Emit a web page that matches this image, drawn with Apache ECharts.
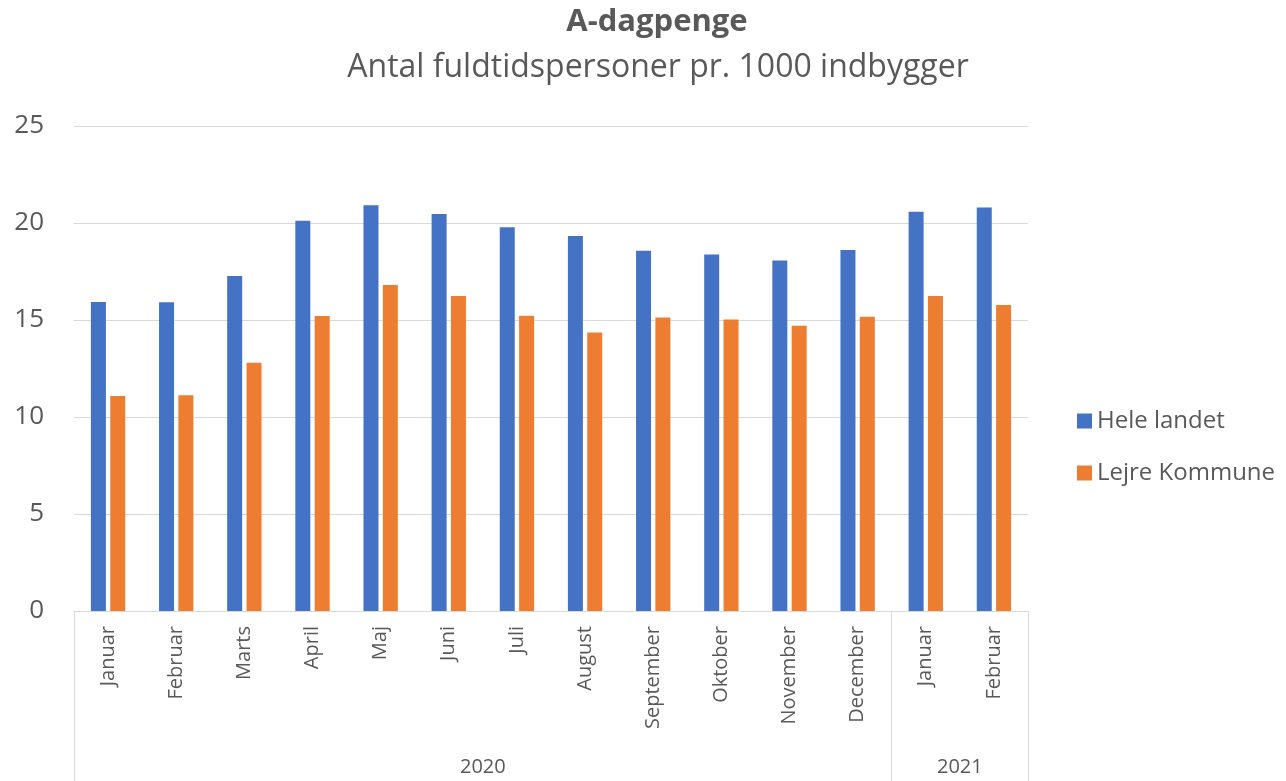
<!DOCTYPE html>
<html>
<head>
<meta charset="utf-8">
<script src="https://cdn.jsdelivr.net/npm/echarts@6/dist/echarts.min.js"></script>
<style>
html,body{margin:0;padding:0;background:#fff;}
#chart{width:1286px;height:781px;}
</style>
</head>
<body>
<div id="chart"></div>
<script>
const months = ['Januar','Februar','Marts','April','Maj','Juni','Juli','August','September','Oktober','November','December','Januar','Februar'];
const years = ['2020','2021'];
const yearSpans = [12, 2];
const heleLandet = [15.93, 15.92, 17.27, 20.12, 20.91, 20.46, 19.78, 19.33, 18.57, 18.38, 18.07, 18.61, 20.58, 20.80];
const lejreKommune = [11.08, 11.12, 12.80, 15.21, 16.80, 16.24, 15.22, 14.35, 15.13, 15.03, 14.71, 15.17, 16.24, 15.77];
const yTicks = [0, 5, 10, 15, 20, 25];

const FONT = '"Open Sans", "Noto Sans", sans-serif';
const TXT = '#595959';
const GRID = '#d9d9d9';

// year group boundaries and label centres
const bounds = [0];
const centres = [];
yearSpans.forEach((s, i) => { centres.push(bounds[i] + s / 2); bounds.push(bounds[i] + s); });

const chart = echarts.init(document.getElementById('chart'));
chart.setOption({
  animation: false,
  textStyle: { fontFamily: FONT },
  title: [
    { text: 'A-dagpenge', left: 652, top: 2, textAlign: 'center',
      textStyle: { fontFamily: FONT, fontSize: 31, fontWeight: 'bold', color: TXT } },
    { text: 'Antal fuldtidspersoner pr. 1000 indbygger', left: 653, top: 47, textAlign: 'center',
      textStyle: { fontFamily: FONT, fontSize: 32, fontWeight: 'normal', color: TXT } }
  ],
  legend: {
    orient: 'vertical', left: 1072, top: 404,
    itemWidth: 15, itemHeight: 15, itemGap: 28,
    icon: 'rect',
    textStyle: { fontFamily: FONT, fontSize: 24, color: TXT },
    data: ['Hele landet', 'Lejre Kommune']
  },
  grid: { left: 74, right: 258, top: 126, bottom: 170, containLabel: false },
  xAxis: [
    {
      type: 'category', data: months,
      axisLine: { show: true, lineStyle: { color: GRID, width: 1 } },
      axisTick: { show: false },
      axisLabel: { rotate: 90, margin: 15, fontFamily: FONT, fontSize: 20, color: TXT },
      splitLine: { show: false }
    },
    {
      type: 'value', min: 0, max: bounds[bounds.length - 1], position: 'bottom',
      axisLine: { show: false },
      splitLine: { show: false },
      axisTick: { show: true, customValues: bounds, length: 172, inside: false,
        lineStyle: { color: GRID, width: 1 } },
      axisLabel: { show: true, customValues: centres, margin: 146,
        fontFamily: FONT, fontSize: 20, color: TXT,
        formatter: function (v) { const i = centres.indexOf(v); return i >= 0 ? years[i] : ''; } }
    }
  ],
  yAxis: {
    type: 'value', min: yTicks[0], max: yTicks[yTicks.length - 1], interval: 5,
    axisLine: { show: false }, axisTick: { show: false },
    axisLabel: { margin: 30, fontFamily: FONT, fontSize: 26, color: TXT },
    splitLine: { lineStyle: { color: GRID, width: 1 } }
  },
  series: [
    { name: 'Hele landet', type: 'bar', data: heleLandet, barWidth: 15, barGap: '29%',
      itemStyle: { color: '#4472C4' } },
    { name: 'Lejre Kommune', type: 'bar', data: lejreKommune, barWidth: 15, barGap: '29%',
      itemStyle: { color: '#ED7D31' } }
  ]
});
</script>
</body>
</html>
